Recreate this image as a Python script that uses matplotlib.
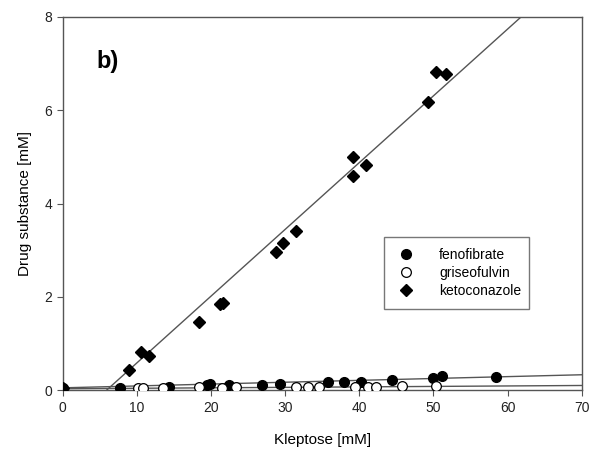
import numpy as np
import matplotlib
matplotlib.use('Agg')
import matplotlib.pyplot as plt

plt.rcParams['font.family'] = ['Liberation Sans', 'DejaVu Sans']

# --- data (Kleptose [mM], drug substance [mM]) ---
feno_x = [0, 7.7, 14.3, 19.4, 19.9, 22.4, 26.9, 29.3, 35.8, 37.9, 40.2, 44.4, 49.9, 51.1, 58.4]
feno_y = [0.05, 0.04, 0.07, 0.11, 0.14, 0.12, 0.12, 0.14, 0.17, 0.18, 0.18, 0.21, 0.25, 0.31, 0.29]

gris_x = [10.2, 10.8, 13.5, 18.3, 21.5, 23.3, 31.4, 33.1, 34.6, 39.4, 41.1, 42.3, 45.7, 50.4]
gris_y = [0.05, 0.05, 0.05, 0.06, 0.05, 0.06, 0.07, 0.07, 0.07, 0.06, 0.07, 0.07, 0.08, 0.08]

keto_x = [0, 8.9, 10.6, 11.6, 18.3, 21.2, 21.6, 28.8, 29.7, 31.5, 39.1, 39.2, 40.9, 49.2, 50.4, 51.7]
keto_y = [0.05, 0.43, 0.82, 0.73, 1.47, 1.85, 1.87, 2.97, 3.15, 3.42, 5.0, 4.6, 4.83, 6.18, 6.83, 6.77]

# linear fits (slope, intercept, x-range)
feno_fit = (0.004, 0.05, 0, 70)
gris_fit = (0.001, 0.03, 0, 70)
keto_fit = (0.1431, -0.845, 5.9, 70)

xticks = [0, 10, 20, 30, 40, 50, 60, 70]
yticks = [0, 2, 4, 6, 8]

fig = plt.figure(figsize=(5.93, 4.59), dpi=100)
ax = fig.add_axes([0.106, 0.150, 0.875, 0.813])

line_col = '#555555'
for slope, icpt, x0, x1 in (feno_fit, gris_fit, keto_fit):
    xs = np.array([x0, x1])
    ax.plot(xs, slope * xs + icpt, color=line_col, lw=1.0, zorder=1)

ax.plot(feno_x, feno_y, 'o', ms=7, mfc='black', mec='black', ls='none', label='fenofibrate', zorder=3)
ax.plot(gris_x, gris_y, 'o', ms=7, mfc='white', mec='black', mew=0.9, ls='none', label='griseofulvin', zorder=3)
ax.plot(keto_x, keto_y, 'D', ms=6.5, mfc='black', mec='black', ls='none', label='ketoconazole', zorder=3)

ax.set_xlim(0, 70)
ax.set_ylim(0, 8)
ax.set_xticks(xticks)
ax.set_yticks(yticks)
ax.tick_params(direction='out', length=4, width=0.8, color='#555555', labelsize=10, labelcolor='#222222')
for s in ax.spines.values():
    s.set_color('#555555')
    s.set_linewidth(1.0)

ax.set_xlabel('Kleptose [mM]', fontsize=11, labelpad=13)
ax.set_ylabel('Drug substance [mM]', fontsize=11, labelpad=9)

ax.text(0.065, 0.88, 'b)', transform=ax.transAxes, fontsize=17, fontweight='bold', va='center')

leg = ax.legend(loc='lower left', bbox_to_anchor=(0.605, 0.198, 0.306, 0.196), mode='expand',
                frameon=True, fancybox=False, edgecolor='#555555', fontsize=10,
                handletextpad=1.6, borderpad=0.8, labelspacing=0.3, handlelength=1.6)
leg.get_frame().set_linewidth(1.0)

fig.savefig('out.png', dpi=100)
